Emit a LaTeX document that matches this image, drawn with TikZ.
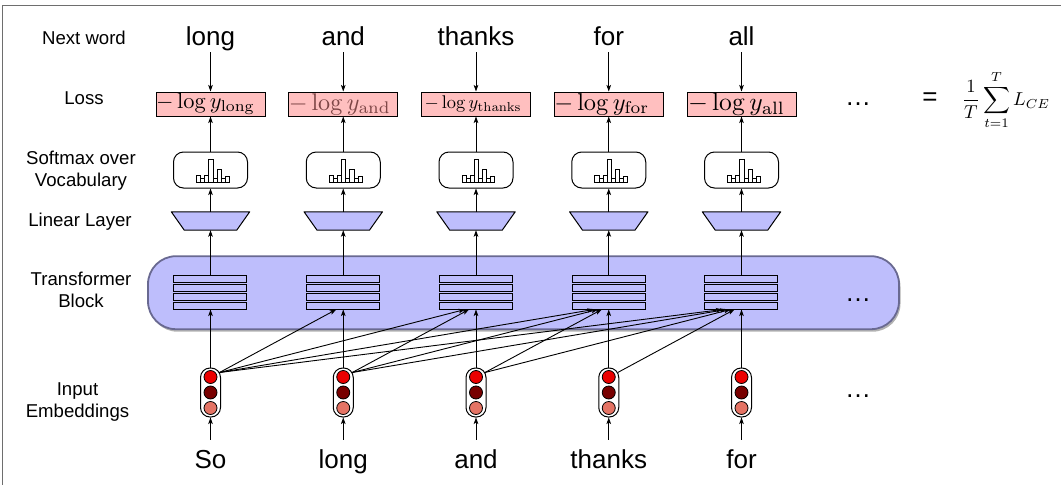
\documentclass[tikz,border=0pt]{standalone}
\usepackage[no-math]{fontspec}
\setmainfont{Liberation Sans}
\usepackage{graphicx}
\usetikzlibrary{shadows,calc,arrows.meta}
\definecolor{lav}{RGB}{190,190,252}
\definecolor{blockborder}{RGB}{105,105,145}
\definecolor{losspink}{RGB}{255,191,191}
\definecolor{andcol}{RGB}{125,70,70}
\definecolor{redA}{RGB}{235,0,0}
\definecolor{redB}{RGB}{120,0,0}
\definecolor{redC}{RGB}{228,115,100}
\definecolor{framecol}{RGB}{110,110,110}
\begin{document}
\begin{tikzpicture}[x=1pt,y=-1pt,
  lbl/.style={font=\fontsize{18.6}{22}\selectfont, inner sep=0, align=center, anchor=base},
  word/.style={font=\fontsize{26}{30}\selectfont, inner sep=0, anchor=base},
  topw/.style={word, text depth=7pt},
  botw/.style={word, text height=28pt},
  arr/.style={line width=0.9pt, -{Stealth[length=6.5pt,width=4.6pt,inset=1.5pt]}},
  lossbox/.style={draw, line width=1pt, fill=losspink, minimum width=109pt, minimum height=24pt, inner sep=0},
  smbox/.style={draw, line width=1pt, fill=white, rounded corners=10pt, minimum width=74pt, minimum height=36pt, inner sep=0},
  histbar/.style={draw, line width=0.7pt, fill=white},
  linbox/.style={minimum width=78pt, minimum height=18pt, inner sep=0},
  linfill/.style={draw, line width=1pt, fill=lav, line join=round},
  block/.style={draw=blockborder, line width=1.8pt, fill=lav, rounded corners=28pt, minimum width=751pt, minimum height=73pt, inner sep=0,
     drop shadow={shadow xshift=1.5pt, shadow yshift=-2.5pt, fill=black, opacity=0.3}},
  stackbox/.style={minimum width=73pt, minimum height=33.3pt, inner sep=0},
  layerbar/.style={draw, line width=1pt, fill=lav},
  capsule/.style={draw, line width=1pt, fill=white, rounded corners=9.5pt, minimum width=20pt, minimum height=49pt, inner sep=0},
  emb/.style={circle, draw, line width=0.8pt, minimum size=13pt, inner sep=0},
]
\useasboundingbox (0,0) rectangle (1061,485);
\draw[framecol, line width=1pt] (1061,5) -- (2,5) -- (2,485);

% row labels (base anchor = baseline of the last line)
\node[lbl] (lnext) at (84,44.5) {Next word};
\node[lbl] (lloss) at (84,104.3) {Loss};
\node[lbl] (lsoft) at (81,186) {Softmax over\\Vocabulary};
\node[lbl] (llin) at (80,226) {Linear Layer};
\node[lbl] (ltrans) at (81,307) {Transformer\\Block};
\node[lbl] (linput) at (77.5,417) {Input\\Embeddings};

% transformer block
\node[block] (blk) at (523.5,292.7) {};

% loss boxes
\node[lossbox] (loss1) at (210.5,104) {\makebox[109pt][l]{\resizebox{99pt}{!}{$-\log y_{\mathrm{long}}$}}};
\node[lossbox] (loss2) at (343.25,104) {\makebox[109pt][l]{\color{andcol}\resizebox{102pt}{!}{$-\log y_{\mathrm{and}}$}}};
\node[lossbox] (loss3) at (476,104) {\makebox[109pt][l]{\hspace*{3pt}\resizebox{97pt}{!}{$-\log y_{\mathrm{thanks}}$}}};
\node[lossbox] (loss4) at (608.75,104) {\makebox[109pt][l]{\resizebox{95pt}{!}{$-\log y_{\mathrm{for}}$}}};
\node[lossbox] (loss5) at (741.5,104) {\makebox[109pt][l]{\hspace*{1pt}\resizebox{97pt}{!}{$-\log y_{\mathrm{all}}$}}};

\foreach \i/\x/\tw/\bw in {1/210.5/long/So, 2/343.25/and/long, 3/476/thanks/and, 4/608.75/for/thanks, 5/741.5/all/for} {
  \node[topw] (tw\i) at (\x,45) {\tw};
  \node[smbox] (sm\i) at (\x,170) {};
  \foreach \k/\h in {0/6.5,1/3.3,2/6.5,3/23,4/3.3,5/13,6/3.3,7/5.5}
    \draw[histbar] ($(sm\i.center)+(-14+\k*4.1,12)$) rectangle ++(4.1,-\h);
  \node[linbox] (ll\i) at (\x,221) {};
  \draw[linfill] (ll\i.north west) -- (ll\i.north east) -- ([xshift=-13pt]ll\i.south east) -- ([xshift=13pt]ll\i.south west) -- cycle;
  \node[stackbox] (st\i) at (\x,292.65) {};
  \foreach \k in {0,...,3}
    \draw[layerbar] ($(st\i.north west)+(0,\k*9)$) rectangle ++(73,6.3);
  \node[capsule] (cap\i) at (\x,392.5) {};
  \node[emb, fill=redA] (ea\i) at (\x,377) {};
  \node[emb, fill=redB] (eb\i) at (\x,392.5) {};
  \node[emb, fill=redC] (ec\i) at (\x,408) {};
  \node[botw] (bw\i) at (\x,468) {\bw};
  \draw[arr] (tw\i.south) -- (loss\i.north);
  \draw[arr] (sm\i.north) -- (loss\i.south);
  \draw[arr] (ll\i.north) -- (sm\i.south);
  \draw[arr] (st\i.north) -- (ll\i.south);
  \draw[arr] (cap\i.north) -- (st\i.south);
  \draw[arr] (bw\i.north) -- (cap\i.south);
}

% attention connections
\foreach \i/\j in {1/2,1/3,1/4,1/5,2/3,2/4,2/5,3/4,3/5,4/5} {
  \pgfmathsetmacro{\off}{-3-4*(\j-\i)}
  \draw[arr] ([shift={(-1.5,5)}]cap\i.north east) -- ([xshift=\off pt]st\j.south);
}

% ellipses and total loss
\node[word] (dloss) at (858,105) {…};
\node[word] (dblk) at (858,301) {…};
\node[word] (demb) at (858,397) {…};
\node[word] (eq) at (930,105.5) {=};
\node[inner sep=0] (total) at (1006,100) {\resizebox{88pt}{!}{$\displaystyle\frac{1}{T}\sum_{t=1}^{T}L_{CE}$}};
\end{tikzpicture}
\end{document}
